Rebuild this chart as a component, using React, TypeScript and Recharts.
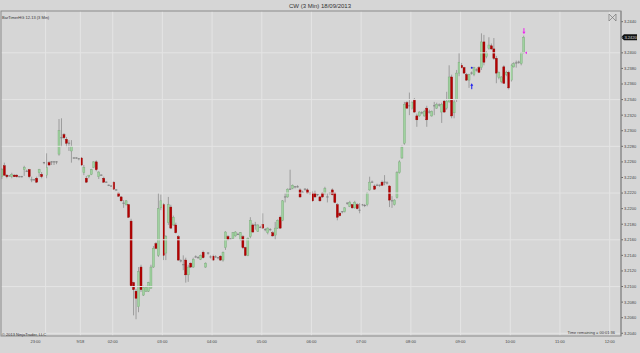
import React from 'react';
import { ComposedChart, Bar, XAxis, YAxis, ReferenceLine, ReferenceDot } from 'recharts';

// [open, high, low, close]
type Candle = [number, number, number, number];

const nightBars: Candle[] = [
  [3.2241, 3.2252, 3.2238, 3.2250], [3.2255, 3.2259, 3.2242, 3.2243], [3.2243, 3.2244, 3.2239, 3.2241],
  [3.2242, 3.2243, 3.2241, 3.2242], [3.2241, 3.2246, 3.2239, 3.2244], [3.2243, 3.2244, 3.2241, 3.2241],
  [3.2243, 3.2244, 3.2240, 3.2241], [3.2241, 3.2242, 3.2240, 3.2241], [3.2241, 3.2242, 3.2240, 3.2241],
  [3.2250, 3.2255, 3.2242, 3.2253], [3.2248, 3.2250, 3.2247, 3.2248], [3.2250, 3.2251, 3.2239, 3.2241],
  [3.2237, 3.2241, 3.2234, 3.2237], [3.2237, 3.2238, 3.2236, 3.2237], [3.2239, 3.2241, 3.2233, 3.2234],
  [3.2246, 3.2251, 3.2241, 3.2250], [3.2244, 3.2247, 3.2239, 3.2241], [3.2259, 3.2260, 3.2257, 3.2259],
  [3.2243, 3.2271, 3.2239, 3.2253], [3.2259, 3.2261, 3.2255, 3.2256], [3.2260, 3.2261, 3.2256, 3.2260],
  [3.2260, 3.2261, 3.2256, 3.2260], [3.2260, 3.2261, 3.2257, 3.2260], [3.2270, 3.2315, 3.2268, 3.2300],
  [3.2291, 3.2316, 3.2279, 3.2291], [3.2295, 3.2297, 3.2289, 3.2291], [3.2289, 3.2292, 3.2279, 3.2284],
  [3.2284, 3.2288, 3.2274, 3.2284], [3.2274, 3.2288, 3.2259, 3.2280], [3.2265, 3.2266, 3.2264, 3.2265],
  [3.2265, 3.2266, 3.2264, 3.2265], [3.2264, 3.2265, 3.2262, 3.2264], [3.2265, 3.2266, 3.2255, 3.2256],
  [3.2246, 3.2256, 3.2243, 3.2253], [3.2239, 3.2242, 3.2233, 3.2234], [3.2241, 3.2243, 3.2239, 3.2243],
  [3.2244, 3.2251, 3.2243, 3.2250], [3.2253, 3.2261, 3.2252, 3.2260], [3.2260, 3.2262, 3.2248, 3.2250],
  [3.2241, 3.2248, 3.2238, 3.2247], [3.2243, 3.2244, 3.2242, 3.2243], [3.2239, 3.2241, 3.2233, 3.2234],
  [3.2234, 3.2235, 3.2233, 3.2234], [3.2230, 3.2231, 3.2229, 3.2230], [3.2229, 3.2230, 3.2228, 3.2229],
  [3.2234, 3.2235, 3.2224, 3.2225], [3.2224, 3.2225, 3.2223, 3.2224], [3.2220, 3.2221, 3.2215, 3.2216],
  [3.2215, 3.2216, 3.2209, 3.2210], [3.2207, 3.2211, 3.2201, 3.2207], [3.2205, 3.2211, 3.2204, 3.2210],
  [3.2205, 3.2206, 3.2188, 3.2189],
];

const dropBars: Candle[] = [
  [3.2184, 3.2187, 3.2099, 3.2101], [3.2105, 3.2106, 3.2063, 3.2096], [3.2094, 3.2097, 3.2058, 3.2085],
  [3.2074, 3.2125, 3.2067, 3.2119], [3.2125, 3.2128, 3.2093, 3.2096], [3.2089, 3.2101, 3.2088, 3.2099],
  [3.2094, 3.2101, 3.2093, 3.2099], [3.2094, 3.2106, 3.2093, 3.2105], [3.2098, 3.2128, 3.2097, 3.2125],
  [3.2125, 3.2152, 3.2124, 3.2149], [3.2155, 3.2157, 3.2148, 3.2149], [3.2140, 3.2220, 3.2138, 3.2200],
  [3.2201, 3.2218, 3.2198, 3.2210], [3.2205, 3.2207, 3.2134, 3.2140], [3.2143, 3.2166, 3.2134, 3.2164],
  [3.2182, 3.2215, 3.2179, 3.2205], [3.2202, 3.2205, 3.2174, 3.2175], [3.2179, 3.2191, 3.2178, 3.2189],
  [3.2179, 3.2182, 3.2168, 3.2169], [3.2164, 3.2166, 3.2133, 3.2134], [3.2133, 3.2135, 3.2131, 3.2133],
  [3.2128, 3.2140, 3.2121, 3.2128], [3.2134, 3.2137, 3.2105, 3.2115], [3.2115, 3.2128, 3.2106, 3.2125],
  [3.2130, 3.2131, 3.2124, 3.2125], [3.2125, 3.2137, 3.2124, 3.2135], [3.2138, 3.2140, 3.2137, 3.2138],
  [3.2137, 3.2139, 3.2136, 3.2137], [3.2135, 3.2141, 3.2134, 3.2140], [3.2144, 3.2146, 3.2136, 3.2137],
  [3.2125, 3.2131, 3.2124, 3.2130], [3.2143, 3.2144, 3.2141, 3.2143], [3.2138, 3.2140, 3.2136, 3.2138],
  [3.2139, 3.2141, 3.2133, 3.2134], [3.2138, 3.2140, 3.2137, 3.2138], [3.2137, 3.2138, 3.2135, 3.2137],
  [3.2139, 3.2140, 3.2133, 3.2134], [3.2134, 3.2145, 3.2132, 3.2144], [3.2150, 3.2171, 3.2147, 3.2170],
  [3.2164, 3.2166, 3.2159, 3.2160], [3.2161, 3.2162, 3.2160, 3.2161], [3.2162, 3.2170, 3.2161, 3.2169],
  [3.2165, 3.2171, 3.2164, 3.2170], [3.2167, 3.2169, 3.2166, 3.2167], [3.2160, 3.2170, 3.2159, 3.2169],
  [3.2164, 3.2166, 3.2148, 3.2150], [3.2150, 3.2151, 3.2139, 3.2140], [3.2140, 3.2163, 3.2139, 3.2162],
  [3.2164, 3.2189, 3.2162, 3.2185], [3.2179, 3.2181, 3.2169, 3.2170], [3.2179, 3.2183, 3.2173, 3.2179],
  [3.2171, 3.2180, 3.2170, 3.2179], [3.2176, 3.2178, 3.2175, 3.2176], [3.2180, 3.2194, 3.2174, 3.2175],
  [3.2173, 3.2175, 3.2171, 3.2173], [3.2169, 3.2176, 3.2167, 3.2175],
];

const middayBars: Candle[] = [
  [3.2173, 3.2175, 3.2171, 3.2173], [3.2169, 3.2171, 3.2164, 3.2165], [3.2166, 3.2183, 3.2160, 3.2175],
  [3.2175, 3.2186, 3.2174, 3.2185], [3.2189, 3.2191, 3.2174, 3.2175], [3.2185, 3.2211, 3.2184, 3.2210],
  [3.2215, 3.2220, 3.2208, 3.2215], [3.2215, 3.2226, 3.2214, 3.2225], [3.2225, 3.2250, 3.2224, 3.2225],
  [3.2226, 3.2231, 3.2225, 3.2230], [3.2228, 3.2229, 3.2226, 3.2228], [3.2228, 3.2230, 3.2227, 3.2228],
  [3.2224, 3.2226, 3.2214, 3.2215], [3.2221, 3.2223, 3.2220, 3.2221], [3.2225, 3.2226, 3.2223, 3.2225],
  [3.2224, 3.2226, 3.2219, 3.2220], [3.2220, 3.2221, 3.2218, 3.2220], [3.2220, 3.2222, 3.2209, 3.2210],
  [3.2220, 3.2223, 3.2214, 3.2215], [3.2218, 3.2219, 3.2216, 3.2218], [3.2215, 3.2216, 3.2209, 3.2210],
  [3.2220, 3.2221, 3.2214, 3.2215], [3.2220, 3.2228, 3.2218, 3.2226], [3.2215, 3.2220, 3.2208, 3.2215],
  [3.2220, 3.2221, 3.2218, 3.2220], [3.2224, 3.2226, 3.2217, 3.2218], [3.2220, 3.2221, 3.2207, 3.2208],
  [3.2205, 3.2207, 3.2185, 3.2189], [3.2194, 3.2196, 3.2190, 3.2191], [3.2196, 3.2197, 3.2194, 3.2196],
  [3.2196, 3.2202, 3.2195, 3.2201], [3.2207, 3.2208, 3.2205, 3.2207], [3.2203, 3.2210, 3.2202, 3.2208],
  [3.2205, 3.2206, 3.2200, 3.2201], [3.2201, 3.2210, 3.2200, 3.2208], [3.2205, 3.2207, 3.2199, 3.2200],
  [3.2198, 3.2207, 3.2194, 3.2198], [3.2205, 3.2206, 3.2203, 3.2205], [3.2204, 3.2206, 3.2202, 3.2204],
  [3.2205, 3.2221, 3.2203, 3.2220], [3.2224, 3.2241, 3.2223, 3.2234], [3.2234, 3.2236, 3.2233, 3.2234],
  [3.2229, 3.2231, 3.2224, 3.2225], [3.2230, 3.2232, 3.2229, 3.2230], [3.2230, 3.2231, 3.2228, 3.2230],
  [3.2234, 3.2236, 3.2229, 3.2230], [3.2234, 3.2243, 3.2230, 3.2234], [3.2233, 3.2235, 3.2231, 3.2233],
  [3.2229, 3.2230, 3.2202, 3.2211], [3.2210, 3.2216, 3.2201, 3.2210], [3.2205, 3.2212, 3.2204, 3.2211],
  [3.2214, 3.2248, 3.2213, 3.2246], [3.2246, 3.2262, 3.2245, 3.2260], [3.2265, 3.2281, 3.2264, 3.2279],
  [3.2284, 3.2337, 3.2282, 3.2334],
];

const rallyBars: Candle[] = [
  [3.2336, 3.2338, 3.2328, 3.2329], [3.2332, 3.2349, 3.2320, 3.2332], [3.2329, 3.2338, 3.2327, 3.2336],
  [3.2340, 3.2342, 3.2323, 3.2324], [3.2319, 3.2322, 3.2305, 3.2314], [3.2319, 3.2325, 3.2318, 3.2324],
  [3.2323, 3.2325, 3.2321, 3.2323], [3.2319, 3.2327, 3.2318, 3.2325], [3.2329, 3.2332, 3.2305, 3.2314],
  [3.2324, 3.2327, 3.2322, 3.2324], [3.2319, 3.2326, 3.2318, 3.2325], [3.2332, 3.2337, 3.2320, 3.2332],
  [3.2329, 3.2336, 3.2328, 3.2334], [3.2333, 3.2335, 3.2331, 3.2333], [3.2324, 3.2336, 3.2310, 3.2334],
  [3.2338, 3.2340, 3.2323, 3.2324], [3.2329, 3.2350, 3.2327, 3.2338], [3.2337, 3.2384, 3.2336, 3.2369],
  [3.2369, 3.2372, 3.2316, 3.2319], [3.2323, 3.2340, 3.2316, 3.2337], [3.2340, 3.2378, 3.2337, 3.2374],
  [3.2374, 3.2400, 3.2370, 3.2388], [3.2384, 3.2387, 3.2380, 3.2381], [3.2381, 3.2382, 3.2373, 3.2374],
  [3.2372, 3.2374, 3.2364, 3.2365], [3.2365, 3.2373, 3.2355, 3.2372], [3.2374, 3.2376, 3.2372, 3.2374],
  [3.2372, 3.2382, 3.2370, 3.2381], [3.2378, 3.2380, 3.2376, 3.2378], [3.2381, 3.2383, 3.2374, 3.2375],
  [3.2381, 3.2425, 3.2378, 3.2414], [3.2414, 3.2423, 3.2384, 3.2388], [3.2395, 3.2402, 3.2393, 3.2400],
  [3.2406, 3.2420, 3.2404, 3.2410], [3.2409, 3.2412, 3.2404, 3.2405], [3.2405, 3.2419, 3.2391, 3.2393],
  [3.2393, 3.2396, 3.2361, 3.2374], [3.2368, 3.2376, 3.2366, 3.2375], [3.2363, 3.2370, 3.2361, 3.2369],
  [3.2382, 3.2384, 3.2360, 3.2361], [3.2372, 3.2377, 3.2370, 3.2375], [3.2375, 3.2377, 3.2353, 3.2355],
  [3.2365, 3.2386, 3.2363, 3.2384], [3.2382, 3.2388, 3.2381, 3.2386], [3.2387, 3.2390, 3.2381, 3.2387],
  [3.2388, 3.2390, 3.2386, 3.2388], [3.2386, 3.2401, 3.2384, 3.2400], [3.2400, 3.2422, 3.2399, 3.2420],
];

const xTickBars = [17.5, 31.5, 44.5, 64.5, 84.5, 104.5, 124.5, 144.5, 164.5, 184.5, 204.5, 224.5, 244.5];
const xTickLabels = ['23:00', '9/18', '02:00', '03:00', '04:00', '05:00', '06:00', '07:00', '08:00', '09:00', '10:00', '11:00', '12:00'];
const yTicks = [
  3.204, 3.206, 3.208, 3.21, 3.212, 3.214, 3.216, 3.218, 3.22, 3.222, 3.224,
  3.226, 3.228, 3.23, 3.232, 3.234, 3.236, 3.238, 3.24, 3.242, 3.244,
];
const yGridValues = [3.204, 3.21, 3.216, 3.222, 3.228, 3.234, 3.24];

const allBars = [...nightBars, ...dropBars, ...middayBars, ...rallyBars];
const data = allBars.map(([open, high, low, close], i) => ({
  i, open, high, low, close, range: [low, high],
}));
const last = data[data.length - 1];

const FONT = '"Liberation Sans", Arial, sans-serif';
const BG = '#d6d6d6';

function CandleShape(props: any) {
  const { x, y, width, height, payload } = props;
  if (!payload) return null;
  const { open, high, low, close } = payload;
  const top = Math.min(y, y + height);
  const h = Math.abs(height);
  const cx = x + width / 2;
  const ratio = high === low ? 0 : h / (high - low);
  const bTop = top + (high - Math.max(open, close)) * ratio;
  const bBot = top + (high - Math.min(open, close)) * ratio;
  const up = close > open;
  const flat = bBot - bTop < 1;
  return (
    <g>
      <line x1={cx} x2={cx} y1={top} y2={top + h} stroke="#8e8e8e" strokeWidth={0.8} />
      {flat ? (
        <rect x={cx - 1.2} y={(bTop + bBot) / 2 - 0.5} width={2.4} height={1} fill="#808080" />
      ) : (
        <rect
          x={cx - 1}
          y={bTop}
          width={2}
          height={bBot - bTop}
          fill={up ? '#9fd29f' : '#b50000'}
          stroke={up ? '#76a876' : '#8c0000'}
          strokeWidth={0.4}
        />
      )}
    </g>
  );
}

function TimeTick(props: any) {
  const { x, y, index } = props;
  const dx = index === 0 ? -10 : 0;
  return (
    <text x={x + dx} y={y + 6.6} textAnchor="middle" fontSize={4} fill="#444" fontFamily={FONT}>
      {xTickLabels[index]}
    </text>
  );
}

function PriceTag(props: any) {
  const { viewBox, price } = props;
  if (!viewBox) return null;
  const x = viewBox.x + viewBox.width;
  const y = viewBox.y;
  return (
    <g>
      <path d={`M${x} ${y} L${x + 3} ${y - 3} L${x + 16} ${y - 3} L${x + 16} ${y + 3} L${x + 3} ${y + 3} Z`} fill="#111" />
      <text x={x + 9.5} y={y + 1.4} textAnchor="middle" fontSize={4} fill="#fff" fontFamily={FONT}>{price}</text>
    </g>
  );
}

function UpArrow({ cx, cy, color }: any) {
  return (
    <g fill={color} stroke={color}>
      <path d={`M${cx} ${cy} L${cx - 1.5} ${cy + 2.5} L${cx + 1.5} ${cy + 2.5} Z`} strokeWidth={0} />
      <line x1={cx} x2={cx} y1={cy + 2} y2={cy + 6} strokeWidth={1} />
    </g>
  );
}

function DownArrow({ cx, cy, color }: any) {
  return (
    <g fill={color} stroke={color}>
      <path d={`M${cx} ${cy} L${cx - 1.5} ${cy - 2.5} L${cx + 1.5} ${cy - 2.5} Z`} strokeWidth={0} />
      <line x1={cx} x2={cx} y1={cy - 2} y2={cy - 6} strokeWidth={1} />
    </g>
  );
}

export default function App() {
  return (
    <div style={{ position: 'absolute', left: 0, top: 0, width: 640, height: 353, background: BG, overflow: 'hidden' }}>
      <ComposedChart width={640} height={353} data={data} margin={{ top: 11, right: 0, left: 1, bottom: 0 }}>
        {yGridValues.map((v) => (
          <ReferenceLine key={'h' + v} y={v} stroke="#e4e4e4" strokeWidth={1} />
        ))}
        {xTickBars.map((v) => (
          <ReferenceLine key={'v' + v} x={v} stroke="#e4e4e4" strokeWidth={1} />
        ))}
        <XAxis
          dataKey="i"
          type="number"
          domain={[-0.44, 249.06]}
          allowDataOverflow
          ticks={xTickBars}
          interval={0}
          tick={<TimeTick />}
          tickLine={false}
          axisLine={false}
          tickSize={0}
          tickMargin={0}
          height={17}
        />
        <YAxis
          orientation="right"
          type="number"
          domain={[3.20365, 3.24537]}
          allowDataOverflow
          ticks={yTicks}
          interval={0}
          width={19}
          tickSize={2}
          tickMargin={1}
          tickLine={{ stroke: '#666' }}
          axisLine={{ stroke: '#8a8a8a' }}
          tick={{ fontSize: 4, fill: '#444', fontFamily: FONT, textAnchor: 'start' }}
          tickFormatter={(v: number) => v.toFixed(4)}
        />
        <Bar dataKey="range" barSize={2} shape={(p: any) => <CandleShape {...p} />} isAnimationActive={false} />
        <ReferenceLine y={last.close} stroke="none" label={<PriceTag price={last.close.toFixed(4)} />} />
        <ReferenceDot x={189} y={3.2381} r={1} fill="#2222dd" stroke="none" />
        <ReferenceDot x={189} y={3.2361} shape={(p: any) => <UpArrow {...p} color="#1a1aee" />} />
        <ReferenceDot x={last.i} y={3.2424} shape={(p: any) => <DownArrow {...p} color="#ee22ee" />} />
        <ReferenceDot
          x={last.i}
          y={3.24}
          shape={(p: any) => (
            <path d={`M${p.cx + 1} ${p.cy} L${p.cx + 3} ${p.cy - 1.3} L${p.cx + 3} ${p.cy + 1.3} Z`} fill="#ee22ee" />
          )}
        />
      </ComposedChart>
      <svg width={640} height={353} style={{ position: 'absolute', left: 0, top: 0, pointerEvents: 'none' }}>
        <rect x={1} y={11} width={620} height={325} fill="none" stroke="#8a8a8a" strokeWidth={1} />
        <text x={320} y={7.5} textAnchor="middle" fontSize={6} fill="#333" fontFamily={FONT}>CW (3 Min)  18/09/2013</text>
        <text x={2} y={19} fontSize={4} fill="#333" fontFamily={FONT}>BarTimerHG 12-13 (3 Min)</text>
        <text x={2} y={335.5} fontSize={4} fill="#333" fontFamily={FONT}>© 2013 NinjaTrader, LLC</text>
        <text x={615} y={333.8} textAnchor="end" fontSize={4} fill="#333" fontFamily={FONT}>Time remaining = 00:01:36</text>
        <g stroke="#777" strokeWidth={0.7} fill="none">
          <path d="M609 14 L609 21 M616 14 L616 21 M609 14 L616 21 M616 14 L609 21" />
        </g>
      </svg>
    </div>
  );
}
